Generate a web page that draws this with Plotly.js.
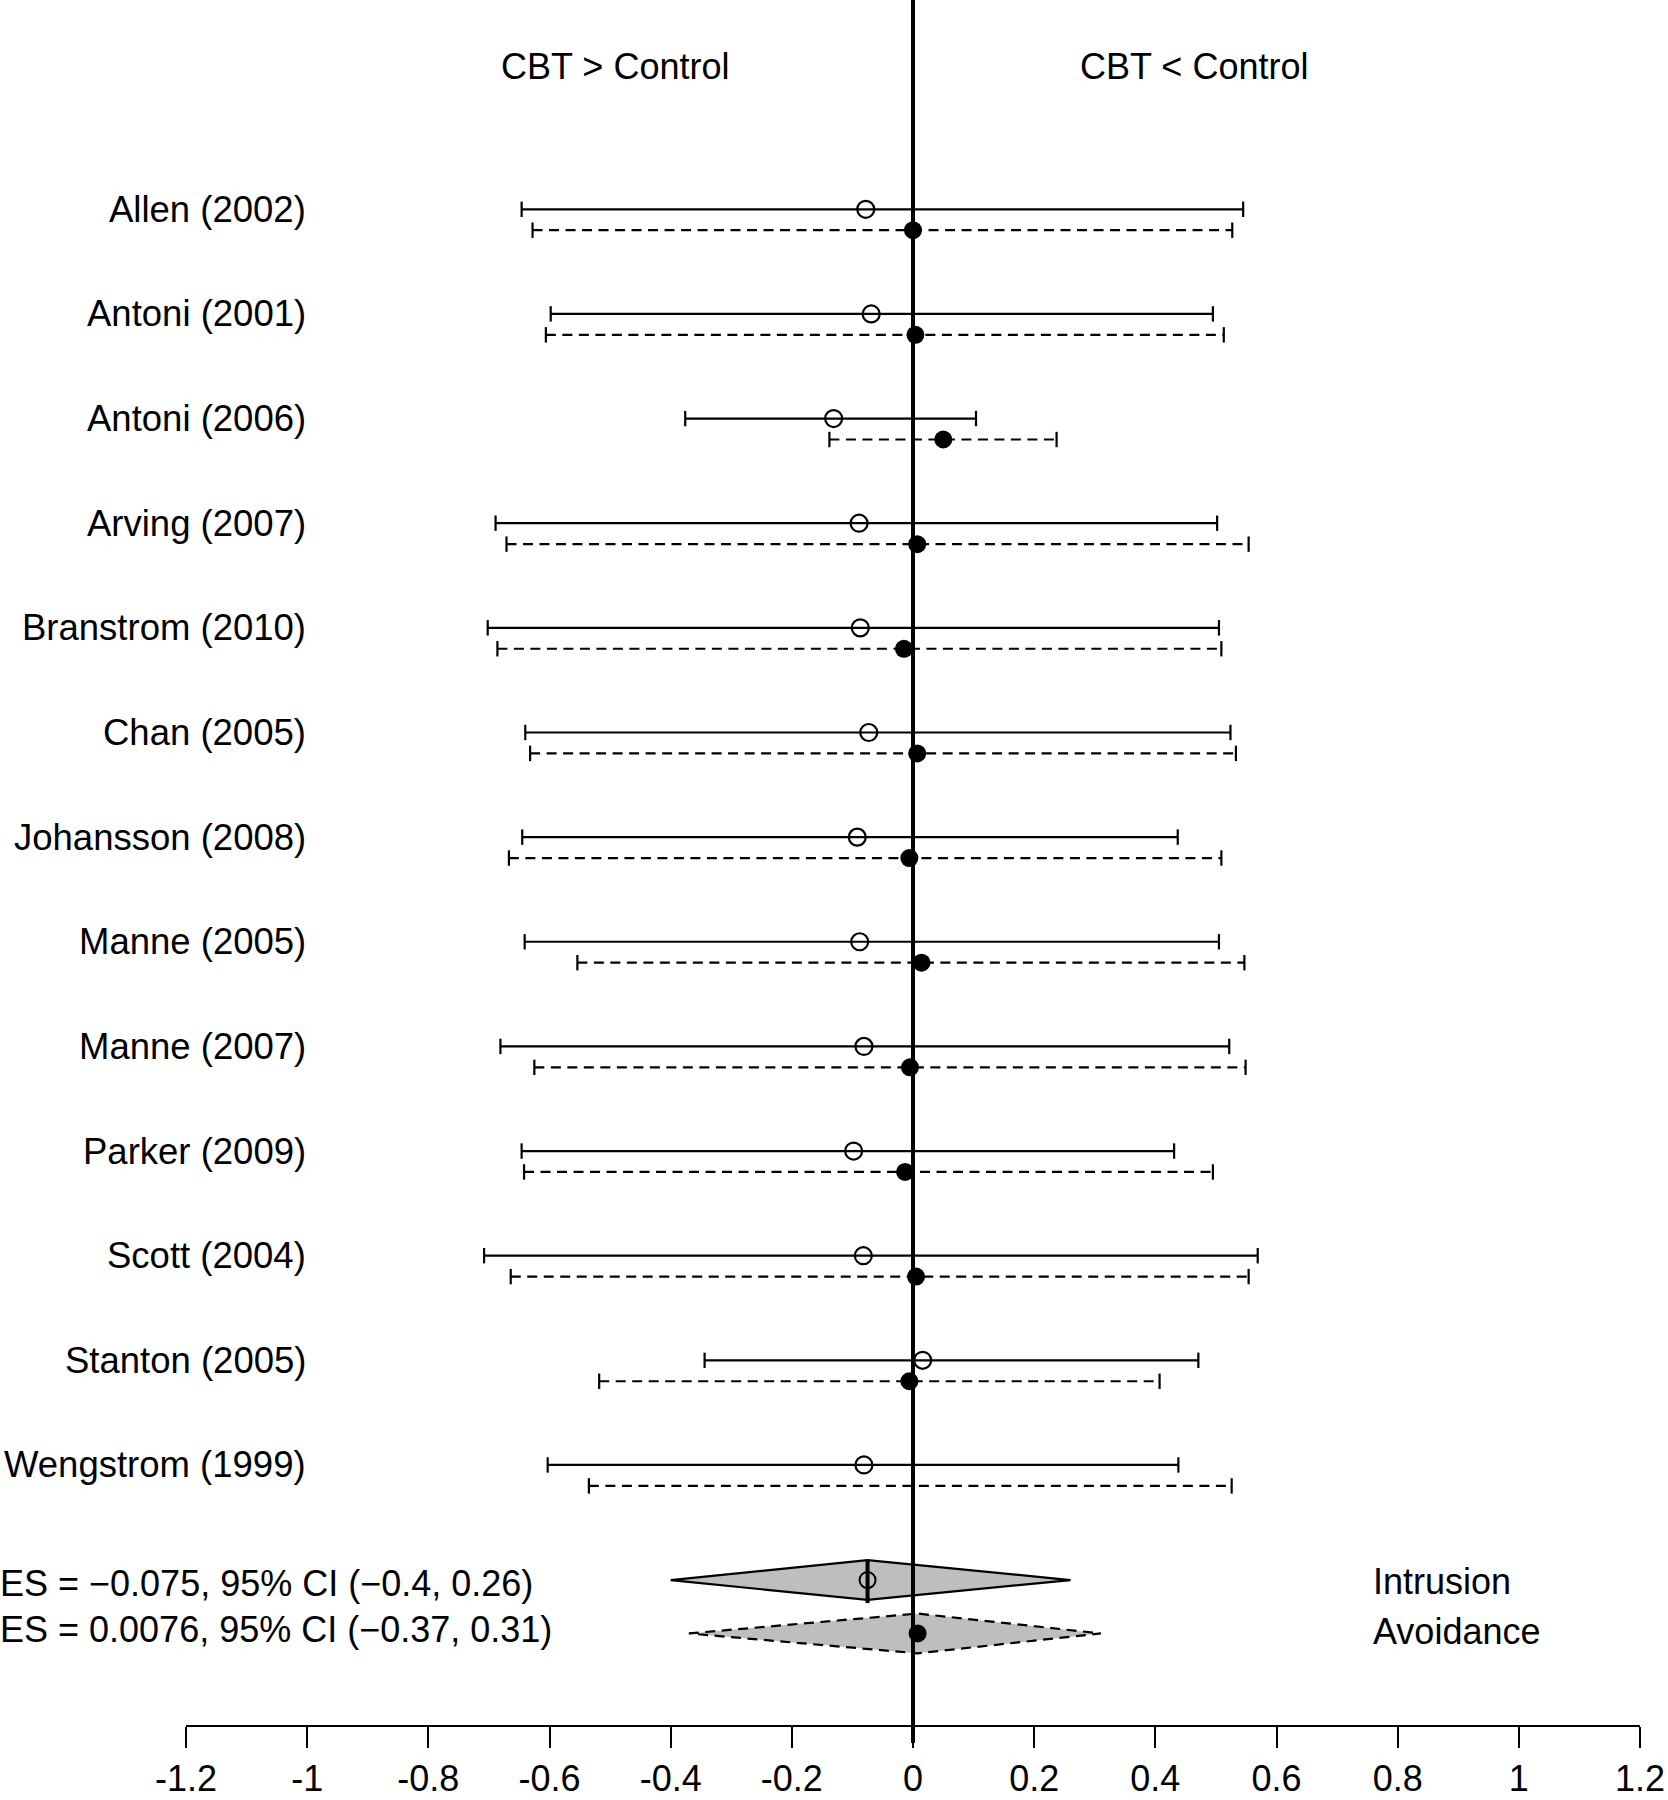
<!DOCTYPE html>
<html><head><meta charset="utf-8">
<script src="https://cdn.plot.ly/plotly-3.0.1.min.js"></script>
<style>body{margin:0;background:#fff}#chart{width:1668px;height:1800px}</style>
</head><body><div id="chart"></div>
<script>
// ---------- data ----------
const studies = ["Allen (2002)","Antoni (2001)","Antoni (2006)","Arving (2007)","Branstrom (2010)","Chan (2005)","Johansson (2008)","Manne (2005)","Manne (2007)","Parker (2009)","Scott (2004)","Stanton (2005)","Wengstrom (1999)"];
const intrusionEst = [-0.078,-0.069,-0.131,-0.089,-0.087,-0.073,-0.092,-0.088,-0.081,-0.098,-0.082,0.016,-0.081];
const intrusionLo  = [-0.646,-0.598,-0.376,-0.689,-0.702,-0.640,-0.645,-0.641,-0.681,-0.646,-0.708,-0.344,-0.603];
const intrusionHi  = [0.545,0.495,0.104,0.502,0.505,0.524,0.437,0.505,0.522,0.431,0.569,0.471,0.438];
const avoidanceEst = [0.000,0.004,0.050,0.007,-0.015,0.007,-0.006,0.014,-0.005,-0.013,0.005,-0.006,null];
const avoidanceLo  = [-0.628,-0.606,-0.138,-0.671,-0.686,-0.632,-0.667,-0.554,-0.625,-0.642,-0.664,-0.518,-0.535];
const avoidanceHi  = [0.527,0.513,0.237,0.554,0.509,0.533,0.509,0.547,0.549,0.495,0.554,0.407,0.526];
const summaryGroups = ["Intrusion","Avoidance"];
const summaryEst = [-0.075, 0.0076];
const summaryLo  = [-0.4, -0.37];
const summaryHi  = [0.26, 0.31];
const headers = ["CBT > Control","CBT < Control"];
const tickVals = [-1.2,-1,-0.8,-0.6,-0.4,-0.2,0,0.2,0.4,0.6,0.8,1,1.2];
const tickText = ["-1.2","-1","-0.8","-0.6","-0.4","-0.2","0","0.2","0.4","0.6","0.8","1","1.2"];

// ---------- layout constants ----------
const FONT = "Liberation Sans, Arial, Helvetica, sans-serif";
const AVO_OFF = 0.2;          // avoidance row offset (row units)
const SUM_Y = [13.10, 13.61]; // summary rows
const ES_TEXT_Y = [13.13, 13.57];
const GROUP_TEXT_Y = [13.11, 13.59];
const DIA_H = 0.19;           // diamond half height
const HEAD_Y = -1.364;
const HEAD_X = [-0.492, 0.464];
const LABEL_X = -0.998;
const DASH = "10px,6.5px";

function segs(lo, hi, off){
  const x=[], y=[];
  lo.forEach((l,i)=>{ x.push(l, hi[i], null); y.push(i+off, i+off, null); });
  return {x, y};
}
const iSeg = segs(intrusionLo, intrusionHi, 0);
const aSeg = segs(avoidanceLo, avoidanceHi, AVO_OFF);
const rowsI = studies.map((s,i)=>i);
const rowsA = studies.map((s,i)=>i+AVO_OFF);

const traces = [];
traces.push({x:iSeg.x, y:iSeg.y, mode:'lines+markers', type:'scatter', hoverinfo:'skip',
  line:{color:'black', width:2.2},
  marker:{symbol:'line-ns-open', size:11, color:'black', line:{color:'black', width:2.2}}});
traces.push({x:aSeg.x, y:aSeg.y, mode:'lines+markers', type:'scatter', hoverinfo:'skip',
  line:{color:'black', width:2.2, dash:DASH},
  marker:{symbol:'line-ns-open', size:11, color:'black', line:{color:'black', width:2.2}}});
traces.push({x:intrusionEst, y:rowsI, mode:'markers', type:'scatter',
  marker:{symbol:'circle-open', size:17, color:'black', line:{color:'black', width:2.2}}});
traces.push({x:avoidanceEst, y:rowsA, mode:'markers', type:'scatter',
  marker:{symbol:'circle', size:18, color:'black'}});

// summary diamonds
summaryGroups.forEach((g,k)=>{
  const yc = SUM_Y[k];
  traces.push({type:'scatter', mode:'lines', fill:'toself', fillcolor:'#BEBEBE', hoverinfo:'skip',
    x:[summaryLo[k], summaryEst[k], summaryHi[k], summaryEst[k], summaryLo[k]],
    y:[yc, yc-DIA_H, yc, yc+DIA_H, yc],
    line:{color:'black', width:2.2, dash: k===0 ? 'solid' : DASH}});
});
// thick line at intrusion pooled estimate
traces.push({type:'scatter', mode:'lines', hoverinfo:'skip',
  x:[summaryEst[0], summaryEst[0]], y:[SUM_Y[0]-DIA_H, SUM_Y[0]+DIA_H+0.03],
  line:{color:'black', width:4}});
traces.push({x:[summaryEst[0]], y:[SUM_Y[0]], mode:'markers', type:'scatter',
  marker:{symbol:'circle-open', size:16, color:'black', line:{color:'black', width:2}}});
traces.push({x:[summaryEst[1]], y:[SUM_Y[1]], mode:'markers', type:'scatter',
  marker:{symbol:'circle', size:18, color:'black'}});

const fmt = v => String(v).replace('-', '\u2212');
const annotations = [];
studies.forEach((s,i)=>annotations.push({x:LABEL_X, y:i, xref:'x', yref:'y', text:s, showarrow:false,
  xanchor:'right', yanchor:'middle', font:{family:FONT, size:36.5, color:'black'}}));
headers.forEach((h,k)=>annotations.push({x:HEAD_X[k], y:HEAD_Y, xref:'x', yref:'y', text:h, showarrow:false,
  xanchor:'center', yanchor:'middle', font:{family:FONT, size:36, color:'black'}}));
summaryGroups.forEach((g,k)=>{
  annotations.push({x:-188/1454, y:ES_TEXT_Y[k], xref:'paper', yref:'y', showarrow:false, xanchor:'left', yanchor:'middle',
    text:`ES = ${fmt(summaryEst[k])}, 95% CI (${fmt(summaryLo[k])}, ${fmt(summaryHi[k])})`,
    font:{family:FONT, size:36, color:'black'}});
  annotations.push({x:0.756, y:GROUP_TEXT_Y[k], xref:'x', yref:'y', showarrow:false, xanchor:'left', yanchor:'middle',
    text:g, font:{family:FONT, size:36, color:'black'}});
});

const layout = {
  width:1668, height:1800, showlegend:false,
  paper_bgcolor:'white', plot_bgcolor:'white',
  margin:{l:186, r:28, t:0, b:75},
  xaxis:{range:[-1.2,1.2], showgrid:false, zeroline:false, showline:true, linecolor:'black', linewidth:2,
    ticks:'outside', ticklen:21, tickwidth:2, tickcolor:'black', tickvals:tickVals, ticktext:tickText,
    tickfont:{family:FONT, size:36, color:'black'}, fixedrange:true},
  yaxis:{range:[14.485,-2.0], visible:false, fixedrange:true},
  shapes:[{type:'line', xref:'x', yref:'paper', x0:0, x1:0, y0:1, y1:-0.0104, line:{color:'black', width:4}}],
  annotations
};
Plotly.newPlot('chart', traces, layout, {staticPlot:true});
</script>
</body></html>
